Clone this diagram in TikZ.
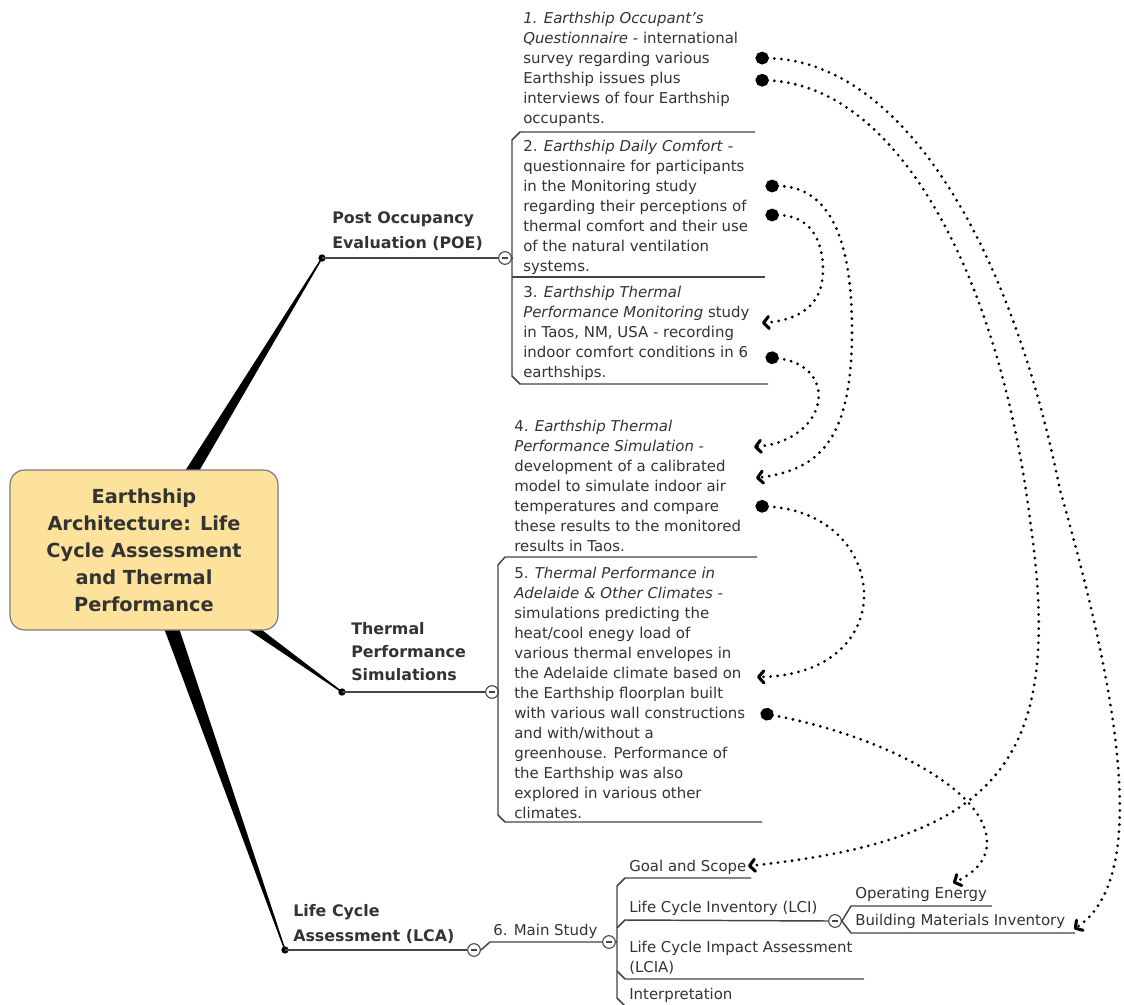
\documentclass[tikz,border=0pt]{standalone}
\usepackage{fontspec}
\setmainfont{DejaVu Sans}
\usetikzlibrary{arrows.meta,calc}
\definecolor{txt}{HTML}{333333}
\definecolor{ln}{HTML}{444444}
\definecolor{centerfill}{HTML}{FDE29B}
\definecolor{centerdraw}{HTML}{7A7A7A}
\begin{document}
\begin{tikzpicture}[x=0.75pt,y=-0.75pt,
  tl/.style={draw=ln,line width=1.1pt,line join=round},
  ctext/.style={anchor=north west,inner sep=0pt,align=left,text=txt,font=\fontsize{11.2}{15}\selectfont},
  btext/.style={anchor=north west,inner sep=0pt,align=left,text=txt,font=\bfseries\fontsize{11.9}{18.75}\selectfont},
  bdot/.style={circle,fill=black,minimum size=5.5pt,inner sep=0pt},
  collapse/.style={circle,draw=ln,fill=white,line width=0.8pt,minimum size=9.5pt,inner sep=0pt,
    path picture={\draw[ln,line width=0.8pt] ([xshift=-2.3pt]path picture bounding box.center) -- ([xshift=2.3pt]path picture bounding box.center);}},
  conn/.style={line width=2.3pt,line cap=round,dash pattern=on 0pt off 5.3pt,
    {Circle[length=10pt,width=9.5pt]}-{Straight Barb[length=4pt,width=9pt,line width=2.3pt,round]}},
  wedge/.style={fill=black}
]
\useasboundingbox (0,0) rectangle (1124,1005);
\clip (0,0) rectangle (1124,1005);
\fill[white] (0,0) rectangle (1124,1005);

% ---------- centre and main branches ----------
\coordinate (ctr) at (144,550);
\node[bdot] (poedot) at (322,258) {};
\node[bdot] (thdot) at (342,692) {};
\node[bdot] (lcadot) at (285,950) {};

\fill[wedge] ($(ctr)!6pt!90:(poedot)$) -- ($(poedot)!0.5pt!-90:(ctr)$) -- ($(poedot)!0.5pt!90:(ctr)$) -- ($(ctr)!6pt!-90:(poedot)$) -- cycle;
\fill[wedge] ($(ctr)!6pt!90:(thdot)$) -- ($(thdot)!0.5pt!-90:(ctr)$) -- ($(thdot)!0.5pt!90:(ctr)$) -- ($(ctr)!6pt!-90:(thdot)$) -- cycle;
\fill[wedge] ($(ctr)!6.5pt!90:(lcadot)$) -- ($(lcadot)!0.5pt!-90:(ctr)$) -- ($(lcadot)!0.5pt!90:(ctr)$) -- ($(ctr)!6.5pt!-90:(lcadot)$) -- cycle;

\node[draw=centerdraw,fill=centerfill,rounded corners=11pt,line width=0.9pt,
      minimum width=201pt,minimum height=120pt,align=center,text=txt,
      font=\bfseries\fontsize{14.5}{20.25}\selectfont] (main) at (ctr)
  {Earthship\\Architecture: Life\\Cycle Assessment\\and Thermal\\Performance};

% ---------- branch labels ----------
\node[btext] (poe) at (332,211) {Post Occupancy\\Evaluation (POE)};
\node[btext,font=\bfseries\fontsize{11.9}{17.25}\selectfont] (thermal) at (351,622) {Thermal\\Performance\\Simulations};
\node[btext] (lca) at (293,904) {Life Cycle\\Assessment (LCA)};

% ---------- collapse circles ----------
\node[collapse] (c1) at (505,258) {};
\node[collapse] (c2) at (492,692) {};
\node[collapse] (c3) at (474,950) {};
\node[collapse] (c4) at (609,942) {};
\node[collapse] (c5) at (835,921) {};

% ---------- tree lines ----------
\draw[tl] (poedot.center) -- (c1.west);
\draw[tl] (c1.east) -- (512,258);
\draw[tl] (755,132) -- (520,132) -- (512,140) -- (512,376) -- (520,384) -- (768,384);
\draw[tl] (512,277) -- (765,277);

\draw[tl] (thdot.center) -- (c2.west);
\draw[tl] (c2.east) -- (498,692);
\draw[tl] (757,557) -- (505,557) -- (498,565) -- (498,815) -- (505,822) -- (762,822);

\draw[tl] (lcadot.center) -- (c3.west);
\draw[tl] (c3.east) -- (490,942) -- (c4.west);
\draw[tl] (c4.east) -- (617,942);
\draw[tl] (751,878) -- (625,878) -- (617,886) -- (617,998) -- (625,1006) -- (760,1006);
\draw[tl] (617,928) -- (625,920) -- (c5.west);
\draw[tl] (617,971) -- (625,979) -- (864,979);
\draw[tl] (c5.east) -- (851,906) -- (992,906);
\draw[tl] (c5.east) -- (851,933) -- (1075,933);

% ---------- POE children ----------
\node[ctext] (t1) at (523,12) {\textit{1. Earthship Occupant's}\\
\textit{Questionnaire} - international\\
survey regarding various\\
Earthship issues plus\\
interviews of four Earthship\\
occupants.};
\node[ctext] (t2) at (523,140) {2. \textit{Earthship Daily Comfort} -\\
questionnaire for participants\\
in the Monitoring study\\
regarding their perceptions of\\
thermal comfort and their use\\
of the natural ventilation\\
systems.};
\node[ctext] (t3) at (523,286) {3. \textit{Earthship Thermal}\\
\textit{Performance Monitoring} study\\
in Taos, NM, USA - recording\\
indoor comfort conditions in 6\\
earthships.};

% ---------- Thermal children ----------
\node[ctext] (t4) at (514,420) {4. \textit{Earthship Thermal}\\
\textit{Performance Simulation} -\\
development of a calibrated\\
model to simulate indoor air\\
temperatures and compare\\
these results to the monitored\\
results in Taos.};
\node[ctext] (t5) at (514,567) {5. \textit{Thermal Performance in}\\
\textit{Adelaide \& Other Climates} -\\
simulations predicting the\\
heat/cool enegy load of\\
various thermal envelopes in\\
the Adelaide climate based on\\
the Earthship floorplan built\\
with various wall constructions\\
and with/without a\\
greenhouse. Performance of\\
the Earthship was also\\
explored in various other\\
climates.};

% ---------- LCA children ----------
\node[ctext] (ms) at (493,924) {6. Main Study};
\node[ctext] (goal) at (629,860) {Goal and Scope};
\node[ctext] (lci) at (629,901) {Life Cycle Inventory (LCI)};
\node[ctext] (oe) at (855,887) {Operating Energy};
\node[ctext] (bmi) at (855,914) {Building Materials Inventory};
\node[ctext] (lcia) at (629,941) {Life Cycle Impact Assessment\\(LCIA)};
\node[ctext] (interp) at (629,988) {Interpretation};

% ---------- relationship connectors ----------
\coordinate (a1s) at (755.5,58);   \coordinate (a1e) at (1074,929);
\coordinate (a2s) at (755.5,80);   \coordinate (a2e) at (748,866);
\coordinate (a3s) at (765.5,186);  \coordinate (a3e) at (756,478);
\coordinate (a4s) at (765.5,215);  \coordinate (a4e) at (762,323);
\coordinate (a5s) at (765.5,357);  \coordinate (a5e) at (754,447);
\coordinate (a6s) at (755.5,506);  \coordinate (a6e) at (757,677);
\coordinate (a7s) at (760.5,713);  \coordinate (a7e) at (953,883);

\draw[conn] (a1s) .. controls (900,60) and (1010,240) .. (1060,490)
                  .. controls (1120,700) and (1150,880) .. (a1e);
\draw[conn] (a2s) .. controls (900,85) and (1000,280) .. (1030,520)
                  .. controls (1065,760) and (1000,840) .. (a2e);
\draw[conn] (a3s) .. controls (830,186) and (852,240) .. (852,330)
                  .. controls (852,440) and (820,470) .. (a3e);
\draw[conn] (a4s) .. controls (810,215) and (823,240) .. (823,270)
                  .. controls (823,305) and (800,320) .. (a4e);
\draw[conn] (a5s) .. controls (840,365) and (830,440) .. (a5e);
\draw[conn] (a6s) .. controls (890,512) and (905,675) .. (a6e);
\draw[conn] (a7s) .. controls (880,735) and (990,790) .. (987,845)
                  .. controls (985,865) and (970,875) .. (a7e);
\end{tikzpicture}
\end{document}
